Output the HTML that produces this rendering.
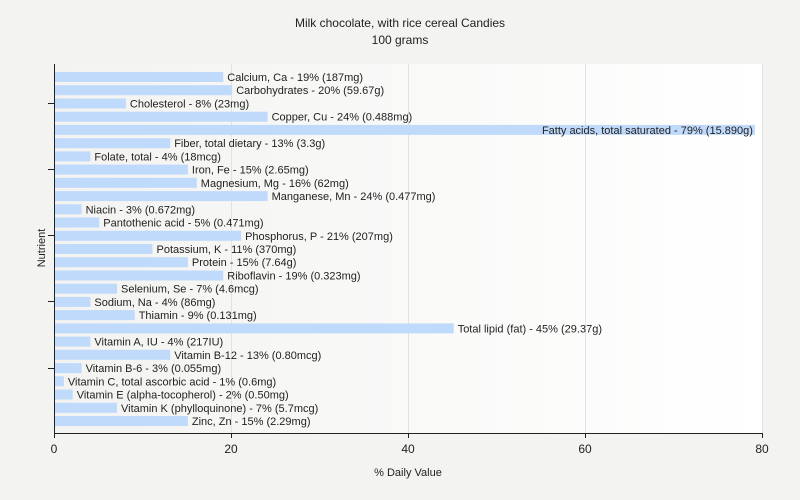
<!DOCTYPE html>
<html><head><meta charset="utf-8"><style>
body{margin:0;background:#f3f3f1;}
svg{display:block;font-family:"Liberation Sans",sans-serif;}
</style></head><body>
<svg width="800" height="500" xmlns="http://www.w3.org/2000/svg">
<defs><linearGradient id="g" x1="0" x2="1"><stop offset="0" stop-color="#f3f3f1"/><stop offset="1" stop-color="#ffffff"/></linearGradient></defs>
<rect width="800" height="500" fill="#f3f3f1"/>
<rect x="54" y="64" width="709" height="369" fill="url(#g)"/>
<g stroke="#e2e2e2" stroke-width="1">
<line x1="231.5" y1="64" x2="231.5" y2="433"/><line x1="408.5" y1="64" x2="408.5" y2="433"/><line x1="585.5" y1="64" x2="585.5" y2="433"/><line x1="762.5" y1="64" x2="762.5" y2="433"/>
</g>
<text x="400" y="27" font-size="12" text-anchor="middle" fill="#222">Milk chocolate, with rice cereal Candies</text>
<text x="400" y="44" font-size="12" text-anchor="middle" fill="#222">100 grams</text>
<g fill="#c0dafc">
<rect x="55" y="72" width="168.3" height="10"/>
<rect x="55" y="85.2" width="177.2" height="10"/>
<rect x="55" y="98.5" width="70.9" height="10"/>
<rect x="55" y="111.7" width="212.6" height="10"/>
<rect x="55" y="124.9" width="699.9" height="10"/>
<rect x="55" y="138.2" width="115.2" height="10"/>
<rect x="55" y="151.4" width="35.4" height="10"/>
<rect x="55" y="164.6" width="132.9" height="10"/>
<rect x="55" y="177.8" width="141.8" height="10"/>
<rect x="55" y="191.1" width="212.6" height="10"/>
<rect x="55" y="204.3" width="26.6" height="10"/>
<rect x="55" y="217.5" width="44.3" height="10"/>
<rect x="55" y="230.8" width="186.1" height="10"/>
<rect x="55" y="244" width="97.5" height="10"/>
<rect x="55" y="257.2" width="132.9" height="10"/>
<rect x="55" y="270.5" width="168.3" height="10"/>
<rect x="55" y="283.7" width="62" height="10"/>
<rect x="55" y="296.9" width="35.4" height="10"/>
<rect x="55" y="310.1" width="79.7" height="10"/>
<rect x="55" y="323.4" width="398.7" height="10"/>
<rect x="55" y="336.6" width="35.4" height="10"/>
<rect x="55" y="349.8" width="115.2" height="10"/>
<rect x="55" y="363.1" width="26.6" height="10"/>
<rect x="55" y="376.3" width="8.9" height="10"/>
<rect x="55" y="389.5" width="17.7" height="10"/>
<rect x="55" y="402.8" width="62" height="10"/>
<rect x="55" y="416" width="132.9" height="10"/>
</g>
<g font-size="11" fill="#222">
<text x="227.3" y="81">Calcium, Ca - 19% (187mg)</text>
<text x="236.2" y="94.2">Carbohydrates - 20% (59.67g)</text>
<text x="129.9" y="107.5">Cholesterol - 8% (23mg)</text>
<text x="271.6" y="120.7">Copper, Cu - 24% (0.488mg)</text>
<text x="752.9" y="133.9" text-anchor="end">Fatty acids, total saturated - 79% (15.890g)</text>
<text x="174.2" y="147.2">Fiber, total dietary - 13% (3.3g)</text>
<text x="94.4" y="160.4">Folate, total - 4% (18mcg)</text>
<text x="191.9" y="173.6">Iron, Fe - 15% (2.65mg)</text>
<text x="200.8" y="186.8">Magnesium, Mg - 16% (62mg)</text>
<text x="271.6" y="200.1">Manganese, Mn - 24% (0.477mg)</text>
<text x="85.6" y="213.3">Niacin - 3% (0.672mg)</text>
<text x="103.3" y="226.5">Pantothenic acid - 5% (0.471mg)</text>
<text x="245.1" y="239.8">Phosphorus, P - 21% (207mg)</text>
<text x="156.5" y="253">Potassium, K - 11% (370mg)</text>
<text x="191.9" y="266.2">Protein - 15% (7.64g)</text>
<text x="227.3" y="279.5">Riboflavin - 19% (0.323mg)</text>
<text x="121" y="292.7">Selenium, Se - 7% (4.6mcg)</text>
<text x="94.4" y="305.9">Sodium, Na - 4% (86mg)</text>
<text x="138.7" y="319.1">Thiamin - 9% (0.131mg)</text>
<text x="457.7" y="332.4">Total lipid (fat) - 45% (29.37g)</text>
<text x="94.4" y="345.6">Vitamin A, IU - 4% (217IU)</text>
<text x="174.2" y="358.8">Vitamin B-12 - 13% (0.80mcg)</text>
<text x="85.6" y="372.1">Vitamin B-6 - 3% (0.055mg)</text>
<text x="67.9" y="385.3">Vitamin C, total ascorbic acid - 1% (0.6mg)</text>
<text x="76.7" y="398.5">Vitamin E (alpha-tocopherol) - 2% (0.50mg)</text>
<text x="121" y="411.8">Vitamin K (phylloquinone) - 7% (5.7mcg)</text>
<text x="191.9" y="425">Zinc, Zn - 15% (2.29mg)</text>
</g>
<g stroke="#222" stroke-width="1">
<line x1="54.5" y1="64" x2="54.5" y2="434"/><line x1="54" y1="433.5" x2="763" y2="433.5"/>
<line x1="54.5" y1="433" x2="54.5" y2="438"/><line x1="231.5" y1="433" x2="231.5" y2="438"/><line x1="408.5" y1="433" x2="408.5" y2="438"/><line x1="585.5" y1="433" x2="585.5" y2="438"/><line x1="762.5" y1="433" x2="762.5" y2="438"/>
<line x1="48" y1="103.5" x2="54" y2="103.5"/><line x1="48" y1="169.5" x2="54" y2="169.5"/><line x1="48" y1="235.5" x2="54" y2="235.5"/><line x1="48" y1="301.5" x2="54" y2="301.5"/><line x1="48" y1="368.5" x2="54" y2="368.5"/>
</g>
<g font-size="12" fill="#222" text-anchor="middle">
<text x="54" y="453">0</text><text x="231" y="453">20</text><text x="408" y="453">40</text><text x="585" y="453">60</text><text x="762" y="453">80</text>
<text x="408" y="476" font-size="11">% Daily Value</text>
<text transform="translate(45,248) rotate(-90)" font-size="11">Nutrient</text>
</g>
</svg>
</body></html>
